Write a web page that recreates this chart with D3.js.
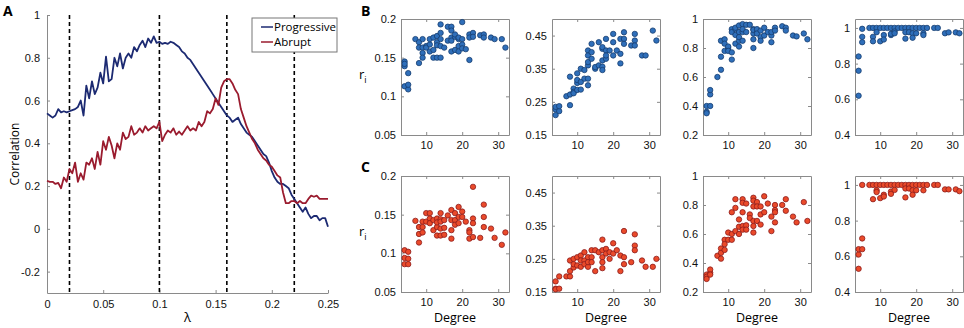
<!DOCTYPE html>
<html>
<head>
<meta charset="utf-8">
<script src="https://cdn.jsdelivr.net/npm/d3@7"></script>
<style>
  body { margin: 0; background: #fff; }
  svg { font-family: "Open Sans", sans-serif; }
  .tick text { font-size: 11px; fill: #111; }
  .domain, .tick line { stroke: #8a8a8a; }
</style>
</head>
<body>
<div id="graphic"></div>
<script>
// ---- panel A: correlation vs lambda ----
const lambdaStep = 0.0025;
const progressive = [
  0.54, 0.53, 0.52, 0.53, 0.56, 0.545, 0.55, 0.545, 0.55, 0.555,
  0.56, 0.57, 0.60, 0.53, 0.67, 0.61, 0.69, 0.63, 0.66, 0.73,
  0.68, 0.805, 0.69, 0.70, 0.80, 0.76, 0.82, 0.75, 0.80, 0.82,
  0.80, 0.85, 0.83, 0.86, 0.88, 0.85, 0.89, 0.87, 0.90, 0.87,
  0.875, 0.865, 0.87, 0.865, 0.875, 0.87, 0.86, 0.85, 0.83, 0.82,
  0.80, 0.79, 0.77, 0.75, 0.73, 0.71, 0.69, 0.67, 0.65, 0.63,
  0.61, 0.59, 0.57, 0.55, 0.53, 0.52, 0.50, 0.51, 0.52, 0.49,
  0.47, 0.45, 0.44, 0.43, 0.41, 0.39, 0.37, 0.35, 0.34, 0.31,
  0.27, 0.24, 0.22, 0.21, 0.21, 0.20, 0.19, 0.16, 0.14, 0.12,
  0.10, 0.08, 0.10, 0.07, 0.05, 0.06, 0.06, 0.04, 0.05, 0.05,
  0.01
];
const abrupt = [
  0.225, 0.22, 0.22, 0.21, 0.215, 0.19, 0.24, 0.22, 0.28, 0.26,
  0.31, 0.22, 0.26, 0.23, 0.31, 0.30, 0.33, 0.28, 0.36, 0.30,
  0.41, 0.37, 0.43, 0.39, 0.33, 0.40, 0.37, 0.45, 0.42, 0.43,
  0.48, 0.44, 0.45, 0.47, 0.45, 0.48, 0.46, 0.47, 0.48, 0.47,
  0.50, 0.41, 0.44, 0.46, 0.45, 0.47, 0.44, 0.455, 0.44, 0.46,
  0.48, 0.46, 0.47, 0.46, 0.50, 0.48, 0.50, 0.55, 0.54, 0.56,
  0.61, 0.58, 0.66, 0.69, 0.70, 0.70, 0.68, 0.65, 0.63, 0.56,
  0.52, 0.48, 0.45, 0.42, 0.40, 0.37, 0.35, 0.33, 0.32, 0.30,
  0.29, 0.27, 0.25, 0.24, 0.17, 0.12, 0.12, 0.13, 0.13, 0.12,
  0.13, 0.12, 0.12, 0.14, 0.155, 0.15, 0.155, 0.14, 0.14, 0.14,
  0.14
];
const dashedLambdas = [0.02, 0.1, 0.16, 0.22];
const lambdaTicks = [0, 0.05, 0.1, 0.15, 0.2, 0.25];
const corrTicks = [-0.2, 0, 0.2, 0.4, 0.6, 0.8, 1];

// ---- panels B/C: r_i vs degree, [degree, r_i] ----
const progB1 = [[4,0.145],[4,0.139],[4,0.142],[4,0.113],[5,0.109],[5,0.115],[5,0.13],[7,0.174],[8,0.17],[8,0.163],[8,0.143],[9,0.174],[9,0.163],[9,0.156],[9,0.15],[10,0.165],[10,0.163],[11,0.167],[11,0.174],[11,0.158],[12,0.15],[12,0.176],[12,0.16],[13,0.17],[13,0.15],[13,0.166],[13,0.178],[14,0.193],[14,0.174],[14,0.15],[14,0.165],[14,0.182],[15,0.163],[16,0.19],[16,0.172],[17,0.19],[17,0.176],[17,0.158],[17,0.172],[17,0.185],[18,0.177],[18,0.16],[18,0.18],[19,0.174],[19,0.165],[19,0.176],[19,0.158],[20,0.196],[20,0.174],[20,0.167],[20,0.162],[21,0.161],[22,0.147],[22,0.18],[22,0.176],[23,0.182],[23,0.177],[25,0.179],[26,0.18],[26,0.176],[28,0.176],[29,0.174],[31,0.174],[32,0.163]];
const progB2 = [[4,0.21],[4,0.227],[4,0.235],[5,0.222],[5,0.237],[7,0.267],[8,0.272],[8,0.24],[8,0.326],[9,0.29],[9,0.28],[9,0.276],[10,0.286],[10,0.336],[10,0.307],[10,0.316],[11,0.35],[11,0.287],[11,0.31],[12,0.32],[12,0.346],[13,0.3],[13,0.32],[13,0.36],[13,0.405],[13,0.37],[13,0.39],[14,0.425],[14,0.4],[14,0.38],[15,0.35],[15,0.355],[16,0.43],[16,0.36],[17,0.356],[17,0.41],[17,0.375],[17,0.346],[17,0.415],[18,0.405],[18,0.38],[18,0.44],[18,0.39],[19,0.405],[20,0.455],[20,0.43],[20,0.39],[21,0.405],[22,0.366],[22,0.395],[22,0.44],[23,0.46],[23,0.44],[23,0.425],[25,0.42],[26,0.455],[26,0.435],[26,0.42],[28,0.39],[29,0.39],[31,0.465],[32,0.435]];
const progB3 = [[4,0.36],[4,0.35],[4,0.40],[5,0.40],[5,0.48],[5,0.51],[7,0.60],[8,0.74],[8,0.65],[8,0.85],[9,0.86],[9,0.83],[9,0.78],[10,0.80],[10,0.81],[10,0.78],[11,0.77],[11,0.72],[11,0.93],[11,0.91],[12,0.83],[12,0.89],[12,0.93],[12,0.94],[13,0.81],[13,0.85],[13,0.91],[13,0.955],[13,0.875],[14,0.965],[14,0.91],[14,0.85],[14,0.93],[15,0.96],[15,0.91],[16,0.96],[17,0.93],[17,0.9],[17,0.86],[17,0.80],[17,0.925],[18,0.91],[18,0.93],[18,0.9],[19,0.875],[19,0.85],[19,0.92],[20,0.94],[20,0.886],[21,0.91],[22,0.886],[22,0.84],[22,0.91],[23,0.94],[23,0.92],[25,0.95],[26,0.94],[26,0.92],[28,0.886],[29,0.88],[31,0.9],[32,0.86]];
const progB4 = [[4,0.62],[4,0.76],[4,0.84],[5,0.92],[5,0.95],[5,0.995],[7,1],[8,1],[8,0.95],[8,0.925],[9,1],[9,0.976],[10,1],[10,0.925],[11,1],[11,0.96],[11,0.935],[12,1],[13,1],[13,0.96],[13,0.967],[14,1],[14,0.98],[14,0.97],[15,1],[16,1],[17,1],[17,0.976],[17,0.94],[18,1],[18,0.976],[19,1],[19,0.97],[19,0.945],[20,1],[20,0.97],[21,1],[22,1],[22,0.97],[22,0.96],[23,1],[25,1],[26,1],[28,0.97],[29,0.975],[31,0.975],[32,0.97]];
const abrC1 = [[4,0.104],[4,0.094],[4,0.086],[5,0.102],[5,0.093],[5,0.086],[7,0.142],[8,0.134],[8,0.125],[8,0.114],[9,0.141],[9,0.134],[9,0.127],[10,0.152],[10,0.141],[11,0.152],[11,0.145],[11,0.139],[12,0.143],[12,0.13],[13,0.145],[13,0.134],[13,0.123],[13,0.14],[14,0.152],[14,0.144],[14,0.132],[14,0.123],[14,0.141],[15,0.143],[15,0.133],[15,0.124],[16,0.149],[17,0.156],[17,0.143],[17,0.13],[17,0.119],[18,0.152],[18,0.143],[18,0.137],[19,0.16],[19,0.147],[19,0.139],[20,0.154],[20,0.147],[21,0.141],[22,0.13],[22,0.119],[22,0.127],[23,0.186],[23,0.145],[23,0.139],[23,0.121],[25,0.12],[26,0.163],[26,0.147],[26,0.134],[28,0.132],[29,0.12],[31,0.111],[32,0.127]];
const abrC2 = [[4,0.182],[4,0.16],[4,0.158],[5,0.197],[5,0.16],[7,0.197],[8,0.197],[8,0.213],[8,0.245],[9,0.25],[9,0.224],[9,0.234],[10,0.255],[10,0.23],[11,0.26],[11,0.245],[11,0.226],[12,0.27],[12,0.245],[12,0.234],[13,0.255],[13,0.226],[13,0.24],[14,0.276],[14,0.255],[14,0.24],[15,0.276],[15,0.213],[16,0.27],[17,0.308],[17,0.276],[17,0.255],[17,0.24],[17,0.222],[18,0.28],[18,0.266],[19,0.27],[19,0.25],[20,0.297],[20,0.266],[21,0.276],[22,0.213],[22,0.26],[23,0.334],[23,0.255],[23,0.234],[25,0.24],[26,0.324],[26,0.29],[26,0.276],[28,0.245],[29,0.226],[31,0.226],[32,0.25]];
const abrC3 = [[4,0.32],[4,0.305],[4,0.29],[5,0.333],[5,0.355],[5,0.32],[7,0.45],[8,0.5],[8,0.47],[8,0.43],[9,0.56],[9,0.53],[9,0.49],[10,0.61],[10,0.56],[11,0.6],[11,0.75],[11,0.56],[12,0.84],[12,0.78],[12,0.62],[13,0.7],[13,0.65],[13,0.6],[14,0.84],[14,0.815],[14,0.75],[14,0.655],[14,0.63],[15,0.81],[15,0.66],[15,0.63],[16,0.735],[16,0.71],[17,0.85],[17,0.83],[17,0.79],[17,0.69],[17,0.655],[17,0.61],[18,0.82],[18,0.69],[18,0.79],[19,0.79],[19,0.735],[19,0.665],[20,0.86],[20,0.75],[21,0.81],[22,0.72],[22,0.62],[23,0.8],[23,0.765],[23,0.75],[23,0.68],[25,0.8],[26,0.84],[26,0.76],[28,0.72],[29,0.68],[31,0.82],[32,0.69]];
const abrC4 = [[4,0.53],[4,0.61],[4,0.64],[5,0.64],[5,0.70],[5,1],[7,1],[8,1],[8,0.92],[9,1],[9,0.97],[9,0.96],[10,1],[10,0.926],[11,1],[11,0.945],[11,0.935],[12,1],[13,1],[13,0.963],[13,0.95],[14,1],[14,0.972],[15,1],[16,1],[17,1],[17,0.98],[17,0.93],[18,1],[18,0.98],[19,1],[19,0.97],[19,0.945],[20,1],[20,0.97],[21,1],[22,1],[22,0.97],[23,1],[25,1],[26,1],[28,0.975],[29,0.975],[31,0.975],[32,0.965]];

const degreeDomain = [3, 33];
const degreeTicks = [10, 20, 30];
const yDomains = [[0.05, 0.2], [0.15, 0.5], [0.2, 1], [0.4, 1.05]];
const yTickSets = [[0.05, 0.1, 0.15, 0.2], [0.15, 0.25, 0.35, 0.45], [0.2, 0.4, 0.6, 0.8, 1], [0.4, 0.6, 0.8, 1]];

const colProg = "#1c2a72", colAbr = "#9a1b2e";

const svg = d3.select('#graphic').append('svg')
  .attr('width', 964).attr('height', 328);

const fmt = d => String(d);

// ===== Panel A =====
const xA = d3.scaleLinear().domain([0, 0.25]).range([47, 328]);
const yA = d3.scaleLinear().domain([-0.3, 1]).range([293, 15]);

svg.append('g').attr('transform', 'translate(0,293)')
  .call(d3.axisBottom(xA).tickValues(lambdaTicks).tickFormat(fmt).tickSizeInner(-3).tickSizeOuter(0).tickPadding(7));
svg.append('g').attr('transform', 'translate(47,0)')
  .call(d3.axisLeft(yA).tickValues(corrTicks).tickFormat(fmt).tickSizeInner(-3).tickSizeOuter(0).tickPadding(7));

svg.append('g').selectAll('line').data(dashedLambdas).join('line')
  .attr('x1', d => xA(d)).attr('x2', d => xA(d))
  .attr('y1', yA(1)).attr('y2', yA(-0.3))
  .attr('stroke', '#000').attr('stroke-width', 1.6).attr('stroke-dasharray', '4,3');

const lineA = d3.line().x((d, i) => xA(i * lambdaStep)).y(d => yA(d));
svg.append('path').attr('d', lineA(progressive)).attr('fill', 'none')
  .attr('stroke', colProg).attr('stroke-width', 1.8).attr('stroke-linejoin', 'round');
svg.append('path').attr('d', lineA(abrupt)).attr('fill', 'none')
  .attr('stroke', colAbr).attr('stroke-width', 1.8).attr('stroke-linejoin', 'round');

// legend
const leg = svg.append('g').attr('transform', 'translate(252,18)');
leg.append('rect').attr('width', 85).attr('height', 34).attr('fill', '#fff').attr('stroke', '#777');
[["Progressive", colProg], ["Abrupt", colAbr]].forEach(([name, c], i) => {
  const yy = 9 + i * 15;
  leg.append('line').attr('x1', 9).attr('x2', 21).attr('y1', yy).attr('y2', yy).attr('stroke', c).attr('stroke-width', 1.5);
  leg.append('text').attr('x', 22).attr('y', yy + 4).attr('font-size', 11.5).text(name);
});

svg.append('text').attr('x', xA(0.125)).attr('y', 322).attr('text-anchor', 'middle')
  .attr('font-size', 13).text('λ');
svg.append('text').attr('transform', 'translate(19,154) rotate(-90)').attr('text-anchor', 'middle')
  .attr('font-size', 12).text('Correlation');

// ===== Panels B and C =====
const lefts = [401, 552, 703, 855];
const boxW = 108, boxH = 116;
const rows = [
  { top: 19, sets: [progB1, progB2, progB3, progB4], fill: "#2f6fba", stroke: "#173d70" },
  { top: 176, sets: [abrC1, abrC2, abrC3, abrC4], fill: "#ea4a2a", stroke: "#8c1c1c" }
];

rows.forEach((row, ri) => {
  row.sets.forEach((pts, ci) => {
    const x = d3.scaleLinear().domain(degreeDomain).range([lefts[ci], lefts[ci] + boxW]);
    const y = d3.scaleLinear().domain(yDomains[ci]).range([row.top + boxH, row.top]);
    const g = svg.append('g');
    const b = row.top + boxH, r = lefts[ci] + boxW;

    g.append('g').attr('transform', `translate(0,${b})`)
      .call(d3.axisBottom(x).tickValues(degreeTicks).tickFormat(fmt).tickSizeInner(-3).tickSizeOuter(0).tickPadding(6));
    g.append('g').attr('transform', `translate(0,${row.top})`)
      .call(d3.axisTop(x).tickValues(degreeTicks).tickFormat('').tickSizeInner(-3).tickSizeOuter(0));
    g.append('g').attr('transform', `translate(${lefts[ci]},0)`)
      .call(d3.axisLeft(y).tickValues(yTickSets[ci]).tickFormat(fmt).tickSizeInner(-3).tickSizeOuter(0).tickPadding(5));
    g.append('g').attr('transform', `translate(${r},0)`)
      .call(d3.axisRight(y).tickValues(yTickSets[ci]).tickFormat('').tickSizeInner(-3).tickSizeOuter(0));

    g.append('g').selectAll('circle').data(pts).join('circle')
      .attr('cx', d => x(d[0])).attr('cy', d => y(d[1])).attr('r', 2.7)
      .attr('fill', row.fill).attr('stroke', row.stroke).attr('stroke-width', 0.8);

    if (ri === 1) {
      svg.append('text').attr('x', lefts[ci] + boxW / 2).attr('y', 322).attr('text-anchor', 'middle')
        .attr('font-size', 12.5).text('Degree');
    }
  });
  const lab = svg.append('text').attr('x', 359).attr('y', row.top + boxH / 2 + 2).attr('font-size', 13);
  lab.append('tspan').text('r');
  lab.append('tspan').attr('font-size', 9).attr('dy', 4).text('i');
});

// panel letters
[["A", 3, 16], ["B", 361, 16], ["C", 361, 172]].forEach(([t, x, y]) => {
  svg.append('text').attr('x', x).attr('y', y).attr('font-size', 14).attr('font-weight', 'bold').text(t);
});
</script>
</body>
</html>
